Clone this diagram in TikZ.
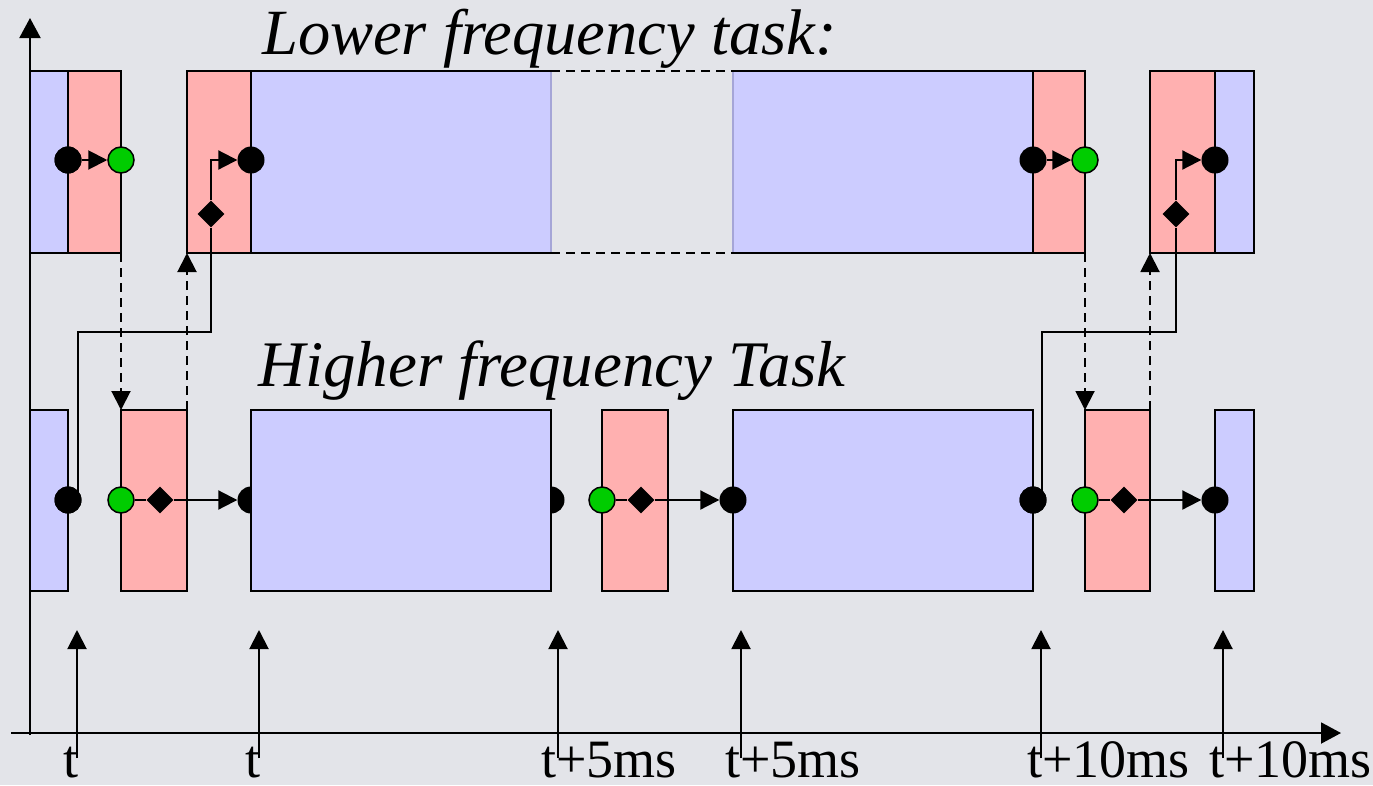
\documentclass[tikz,border=0pt]{standalone}
\usepackage{fontspec}
\setmainfont{Liberation Serif}
\usetikzlibrary{arrows.meta,shapes.geometric}

\definecolor{bg}{RGB}{227,228,233}
\definecolor{lowcol}{RGB}{204,204,255}
\definecolor{hicol}{RGB}{255,176,176}
\definecolor{okgreen}{RGB}{0,204,0}
\definecolor{seam}{RGB}{165,165,215}

\tikzset{
  bluebox/.style={fill=lowcol,draw=black,line width=2pt},
  redbox/.style={fill=hicol,draw=black,line width=2pt},
  dot/.style={circle,fill=black,inner sep=0pt,minimum size=27pt},
  gdot/.style={circle,fill=okgreen,draw=black,line width=1.5pt,inner sep=0pt,minimum size=26pt},
  dia/.style={diamond,fill=black,inner sep=0pt,minimum size=27pt},
  wire/.style={line width=2pt,black},
  dashwire/.style={line width=2pt,black,dash pattern=on 9pt off 6pt},
  tip/.style={-{Triangle[length=19pt,width=19pt]}},
  axistip/.style={-{Triangle[length=20pt,width=21pt]}},
  title/.style={anchor=base west,inner sep=0pt,text depth=0pt,font=\fontsize{64.5pt}{70pt}\selectfont\itshape},
  lab/.style={anchor=base west,inner sep=0pt,text depth=0pt,font=\fontsize{54pt}{60pt}\selectfont},
}

\begin{document}
\begin{tikzpicture}[x=1pt,y=-1pt]
\useasboundingbox (0,0) rectangle (1373,785);
\fill[bg] (0,0) rectangle (1373,785);

% ---------- lower frequency task (top row) ----------
\fill[lowcol] (251,71) rectangle (551,253);
\fill[lowcol] (733,71) rectangle (1033,253);
\draw[seam,line width=1.5pt] (551,71) -- (551,253);
\draw[seam,line width=1.5pt] (733,71) -- (733,253);
\draw[wire] (251,71) -- (551,71) (251,253) -- (551,253);
\draw[wire] (733,71) -- (1033,71) (733,253) -- (1033,253);
\draw[dashwire] (551,71) -- (733,71) (551,253) -- (733,253);

\filldraw[bluebox] (30,71) rectangle (68,253);
\filldraw[redbox] (68,71) rectangle (121,253);
\filldraw[redbox] (187,71) rectangle (251,253);
\filldraw[redbox] (1033,71) rectangle (1085,253);
\filldraw[redbox] (1150,71) rectangle (1215,253);
\filldraw[bluebox] (1215,71) rectangle (1254,253);

% ---------- higher frequency task (bottom row) ----------
% events hidden behind the long block
\node[dot] (hb3) at (251,500) {};
\node[dot] (hb4) at (551,500) {};

\filldraw[bluebox] (30,410) rectangle (68,591);
\filldraw[redbox] (121,410) rectangle (187,591);
\filldraw[bluebox] (251,410) rectangle (551,591);
\filldraw[redbox] (602,410) rectangle (668,591);
\filldraw[bluebox] (733,410) rectangle (1033,591);
\filldraw[redbox] (1085,410) rectangle (1150,591);
\filldraw[bluebox] (1215,410) rectangle (1254,591);

% corner points used by the hand-over arrows
\coordinate (ltA) at (121,253);
\coordinate (hbA) at (121,410);
\coordinate (hbB) at (187,410);
\coordinate (ltB) at (187,253);
\coordinate (ltC) at (1085,253);
\coordinate (hbC) at (1085,410);
\coordinate (hbD) at (1150,410);
\coordinate (ltD) at (1150,253);
\coordinate (k1) at (211,332);
\coordinate (k2) at (1176,332);

% ---------- markers ----------
\node[dot]  (lb1) at (68,160) {};
\node[gdot] (lg1) at (121,160) {};
\node[dia]  (ld1) at (211,214) {};
\node[dot]  (lb2) at (251,160) {};
\node[dot]  (lb3) at (1033,160) {};
\node[gdot] (lg2) at (1085,160) {};
\node[dia]  (ld2) at (1176,214) {};
\node[dot]  (lb4) at (1215,160) {};

\node[dot]  (hb1) at (68,500) {};
\node[gdot] (hg1) at (121,500) {};
\node[dia]  (hd1) at (160,500) {};
\node[gdot] (hg2) at (602,500) {};
\node[dia]  (hd2) at (641,500) {};
\node[dot]  (hb5) at (733,500) {};
\node[dot]  (hb6) at (1033,500) {};
\node[gdot] (hg3) at (1085,500) {};
\node[dia]  (hd3) at (1124,500) {};
\node[dot]  (hb7) at (1215,500) {};

% ---------- connectors ----------
\draw[wire,tip] (lb1) -- (lg1);
\draw[wire,tip] (lb3) -- (lg2);

\draw[wire] (hg1) -- (hd1);
\draw[wire,tip] (hd1) -- (hb3);
\draw[wire] (hg2) -- (hd2);
\draw[wire,tip] (hd2) -- (hb5);
\draw[wire] (hg3) -- (hd3);
\draw[wire,tip] (hd3) -- (hb7);

\draw[wire] ([xshift=10pt]hb1.center) |- (k1) -- (ld1);
\draw[wire,tip] (ld1) |- (lb2);
\draw[wire] ([xshift=9pt]hb6.center) |- (k2) -- (ld2);
\draw[wire,tip] (ld2) |- (lb4);

\draw[dashwire,tip] (ltA) -- (hbA);
\draw[dashwire,tip] (hbB) -- (ltB);
\draw[dashwire,tip] (ltC) -- (hbC);
\draw[dashwire,tip] (hbD) -- (ltD);

% redraw markers over connector ends
\node[dot]  at (lb1) {};
\node[dot]  at (hb1) {};
\node[dot]  at (hb6) {};

% ---------- titles ----------
\node[title] (lowtitle) at (262,54) {Lower frequency task:};
\node[title,font=\fontsize{65pt}{70pt}\selectfont\itshape] (hightitle) at (258,386) {Higher frequency Task};

% ---------- time axes ----------
\coordinate (yb) at (30,735);
\coordinate (yt) at (30,18);
\coordinate (xl) at (11,733);
\coordinate (xr) at (1341,733);
\draw[wire,axistip] (yb) -- (yt);
\draw[wire,axistip] (xl) -- (xr);

\foreach \x/\n in {77/1,259/2,558/3,741/4,1041/5,1223/6}{
  \coordinate (tb\n) at (\x,758);
  \coordinate (tt\n) at (\x,630);
  \draw[wire,tip] (tb\n) -- (tt\n);
}

\node[lab] (l1) at (63,777) {t};
\node[lab] (l2) at (245,777) {t};
\node[lab] (l3) at (541,777) {t+5ms};
\node[lab] (l4) at (725,777) {t+5ms};
\node[lab] (l5) at (1027,777) {t+10ms};
\node[lab] (l6) at (1209,777) {t+10ms};
\end{tikzpicture}
\end{document}
